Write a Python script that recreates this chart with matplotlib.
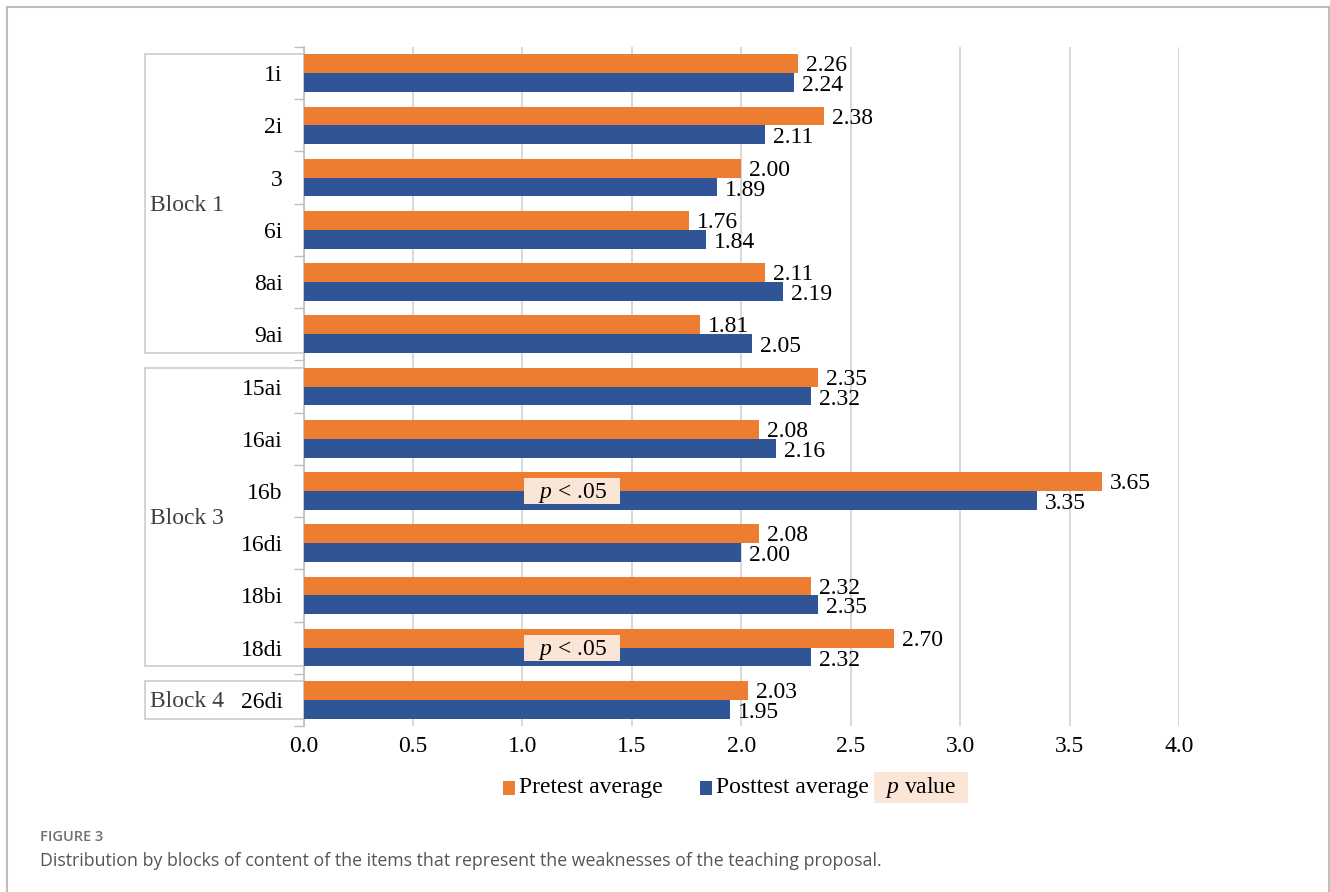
import matplotlib.pyplot as plt
import matplotlib.transforms as mtransforms
from matplotlib.patches import Rectangle
from matplotlib.lines import Line2D

plt.rcParams['font.family'] = ['Liberation Serif', 'DejaVu Serif']
plt.rcParams['mathtext.fontset'] = 'custom'
plt.rcParams['mathtext.it'] = 'Liberation Serif:italic'
plt.rcParams['mathtext.rm'] = 'Liberation Serif'

items = ['1i', '2i', '3', '6i', '8ai', '9ai',
         '15ai', '16ai', '16b', '16di', '18bi', '18di', '26di']
pretest = [2.26, 2.38, 2.00, 1.76, 2.11, 1.81,
           2.35, 2.08, 3.65, 2.08, 2.32, 2.70, 2.03]
posttest = [2.24, 2.11, 1.89, 1.84, 2.19, 2.05,
            2.32, 2.16, 3.35, 2.00, 2.35, 2.32, 1.95]
blocks = ['Block 1', 'Block 3', 'Block 4']
block_ranges = [(0, 5), (6, 11), (12, 12)]
signif_items = ['16b', '18di']
xticks = [0.0, 0.5, 1.0, 1.5, 2.0, 2.5, 3.0, 3.5, 4.0]

ORANGE = '#ED7D31'
BLUE = '#2F5597'
PEACH = '#FBE5D6'

W, H = 1330, 892
fig = plt.figure(figsize=(W / 100, H / 100), dpi=100)


def fx(px):
    return px / W


def fy(py):
    return 1 - py / H


ax = fig.add_axes([fx(303.5), fy(726), fx(1179) - fx(303.5), fy(47) - fy(726)])

ypos = list(range(len(items)))
bh = 0.36
ax.barh([y - bh / 2 for y in ypos], pretest, height=bh, color=ORANGE, zorder=3)
ax.barh([y + bh / 2 for y in ypos], posttest, height=bh, color=BLUE, zorder=3)

for y, a, b in zip(ypos, pretest, posttest):
    ax.text(a + 0.036, y - bh / 2 + 0.04, f'{a:.2f}', va='center', ha='left', fontsize=17, zorder=4)
    ax.text(b + 0.036, y + bh / 2 + 0.06, f'{b:.2f}', va='center', ha='left', fontsize=17, zorder=4)

# p-value boxes
for name in signif_items:
    y = items.index(name)
    ax.add_patch(Rectangle((1.008, y - 0.25), 0.44, 0.5, facecolor=PEACH, edgecolor='none', zorder=5))
    ax.text(1.228, y + 0.04, r'$p$ < .05', ha='center', va='center', fontsize=17, zorder=6)

ax.set_xlim(0, 4.0)
ax.set_ylim(len(items) - 0.5, -0.5)
ax.set_xticks(xticks)
ax.set_xticklabels([f'{t:.1f}' for t in xticks], fontsize=17)
ax.set_yticks(ypos)
ax.set_yticklabels(items, fontsize=17)
ax.set_yticks([y - 0.5 for y in ypos] + [len(items) - 0.5], minor=True)
ax.tick_params(axis='x', length=0, pad=7)
ax.tick_params(axis='y', which='major', length=0, pad=15)
ax.tick_params(axis='y', which='minor', length=7, color='#bfbfbf', width=1)
ax.grid(axis='x', color='#d9d9d9', linewidth=1.5, zorder=0)
for s in ['top', 'right', 'bottom']:
    ax.spines[s].set_visible(False)
ax.spines['left'].set_color('#bfbfbf')
ax.spines['left'].set_linewidth(1.2)

# block group boxes on the left
trans = mtransforms.blended_transform_factory(ax.transAxes, ax.transData)
bx = (145 - 303.5) / (1179 - 303.5)
for label, (a, b) in zip(blocks, block_ranges):
    top = a - bh
    bot = b + bh
    for xs, ys in [([bx, 0], [top, top]), ([bx, bx], [top, bot]), ([bx, 0], [bot, bot])]:
        ax.add_line(Line2D(xs, ys, transform=trans, color='#d0d0d0', linewidth=1.3, clip_on=False))
    ax.text(bx + 0.006, (a + b) / 2 + 0.03, label, transform=trans, ha='left', va='center',
            fontsize=17, color='#404040')

# legend
fig.add_artist(Rectangle((fx(503), fy(795)), fx(12), fy(781) - fy(795), transform=fig.transFigure,
                         facecolor=ORANGE, edgecolor='none'))
fig.text(fx(519), fy(787), 'Pretest average', fontsize=17, va='center', ha='left')
fig.add_artist(Rectangle((fx(700), fy(795)), fx(12), fy(781) - fy(795), transform=fig.transFigure,
                         facecolor=BLUE, edgecolor='none'))
fig.text(fx(716), fy(787), 'Posttest average', fontsize=17, va='center', ha='left')
fig.add_artist(Rectangle((fx(874), fy(803)), fx(968) - fx(874), fy(772) - fy(803), transform=fig.transFigure,
                         facecolor=PEACH, edgecolor='none'))
fig.text(fx(921), fy(788), r'$p$ value', fontsize=17, va='center', ha='center')

# outer frame
frame_c = '#bdbdbd'
fig.add_artist(Line2D([fx(6.5), fx(6.5)], [0, fy(6.5)], transform=fig.transFigure, color=frame_c, linewidth=1.5))
fig.add_artist(Line2D([fx(6.5), fx(1328.5)], [fy(6.5), fy(6.5)], transform=fig.transFigure, color=frame_c, linewidth=1.5))
fig.add_artist(Line2D([fx(1328.5), fx(1328.5)], [0, fy(6.5)], transform=fig.transFigure, color=frame_c, linewidth=1.5))

# caption
fig.text(fx(40), fy(837), 'FIGURE 3', family='Open Sans', fontsize=10.5, color='#707070',
         va='center', ha='left', fontweight='semibold')
fig.text(fx(40), fy(861), 'Distribution by blocks of content of the items that represent the weaknesses '
         'of the teaching proposal.', family='Open Sans', fontsize=12.8, color='#555555',
         va='center', ha='left')

fig.savefig('out.png', dpi=100)
